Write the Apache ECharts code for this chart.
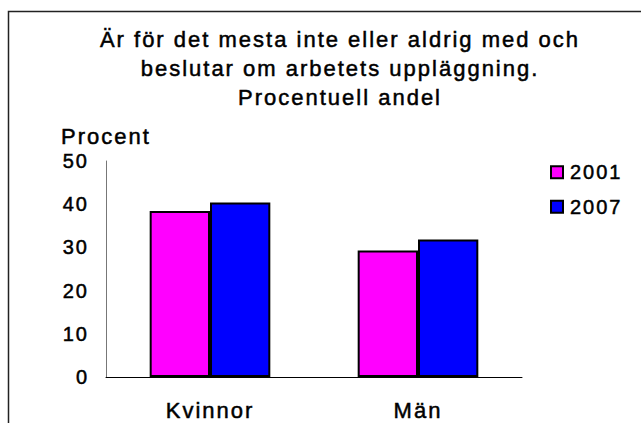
<!DOCTYPE html>
<html>
<head>
<meta charset="utf-8">
<script src="https://cdn.jsdelivr.net/npm/echarts@6/dist/echarts.min.js"></script>
<style>
  html, body { margin: 0; padding: 0; background: #fff; }
  #chart { width: 641px; height: 423px; }
  /* the original lettering is spaced out a bit */
  #chart text { letter-spacing: 2px; }
</style>
</head>
<body>
<div id="chart"></div>
<script>
// data
const categories = ['Kvinnor', 'Män'];
const seriesNames = ['2001', '2007'];
const values2001 = [38.4, 29.3];
const values2007 = [40.4, 31.8];
const yMin = 0;
const yMax = 50;
const yStep = 10;

const titleText = 'Är för det mesta inte eller aldrig med och\nbeslutar om arbetets uppläggning.\nProcentuell andel';

function drawBars() {
  let myChart = echarts.init(document.getElementById('chart'), null, { renderer: 'svg' });
  let font = 'Liberation Sans, Arial, Helvetica, sans-serif';
  // a thin outline makes the glyphs a little heavier, like the original
  let heavy = { textBorderColor: '#000', textBorderWidth: 0.5 };
  let option = {
    backgroundColor: '#fff',
    textStyle: { fontFamily: font, color: '#000' },
    title: {
      text: titleText,
      left: 335,
      top: 20,
      textAlign: 'center',
      textStyle: Object.assign({
        fontFamily: font,
        fontSize: 22,
        fontWeight: 'normal',
        color: '#000',
        lineHeight: 29
      }, heavy)
    },
    legend: {
      data: seriesNames,
      orient: 'vertical',
      left: 545,
      top: 157,
      icon: 'rect',
      itemWidth: 12,
      itemHeight: 12,
      itemGap: 14,
      itemStyle: { borderColor: '#000', borderWidth: 2 },
      textStyle: Object.assign({ fontFamily: font, fontSize: 20, color: '#000', padding: [0, 0, 0, 2] }, heavy)
    },
    graphic: [
      {
        type: 'rect',
        z: -1,
        shape: { x: 8.5, y: 11.5, width: 700, height: 500 },
        style: { fill: 'none', stroke: '#222', lineWidth: 1.5 }
      }
    ],
    grid: {
      left: 106,
      right: 119,
      top: 161,
      bottom: 46
    },
    xAxis: {
      type: 'category',
      data: categories,
      axisLine: { lineStyle: { color: '#000', width: 1 } },
      axisTick: { show: false },
      axisLabel: Object.assign({ fontFamily: font, fontSize: 22, color: '#000', margin: 22 }, heavy)
    },
    yAxis: {
      type: 'value',
      min: yMin,
      max: yMax,
      interval: yStep,
      name: 'Procent',
      nameLocation: 'end',
      nameGap: 14,
      nameTextStyle: Object.assign({ fontFamily: font, fontSize: 22, color: '#000', align: 'center' }, heavy),
      axisLine: { show: true, lineStyle: { color: '#777', width: 1 } },
      axisTick: { show: false },
      splitLine: { show: false },
      axisLabel: Object.assign({ fontFamily: font, fontSize: 20, color: '#000', margin: 17, padding: [6, 0, 0, 0] }, heavy)
    },
    series: [
      {
        name: seriesNames[0],
        type: 'bar',
        data: values2001,
        barGap: '0%',
        barCategoryGap: '42%',
        itemStyle: { color: '#FF00FF', borderColor: '#000', borderWidth: 2 }
      },
      {
        name: seriesNames[1],
        type: 'bar',
        data: values2007,
        itemStyle: { color: '#0000FF', borderColor: '#000', borderWidth: 2 }
      }
    ],
    animation: false
  };
  option && myChart.setOption(option);
  return myChart;
}

drawBars();
</script>
</body>
</html>
